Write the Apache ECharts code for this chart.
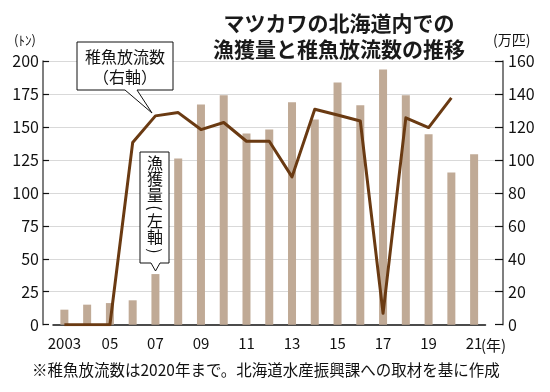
<!DOCTYPE html>
<html><head><meta charset="utf-8">
<script src="https://cdn.jsdelivr.net/npm/echarts@6/dist/echarts.min.js"></script>
<style>html,body{margin:0;padding:0;background:#fff}#c{width:550px;height:392px}</style>
</head><body><div id="c"></div>
<script>
const years = ['2003','2004','2005','2006','2007','2008','2009','2010','2011','2012','2013','2014','2015','2016','2017','2018','2019','2020','2021'];
const catch_t = [11.4,15.2,16.4,18.5,38.4,126,167,174,145,148,168.7,155.6,183.6,166.4,193.5,174,144.5,115.5,129.3];
const release_10k = [0,0,0,110.5,126.7,128.7,118.4,122.7,111.3,111.3,89.7,130.7,127.2,123.6,6.9,125.5,119.6,137.6,null];
const leftTicks = {min:0,max:200,interval:25};
const rightTicks = {min:0,max:160,interval:20};

const F = '"Noto Sans CJK JP","Noto Sans",sans-serif';
const chart = echarts.init(document.getElementById('c'), null, {renderer:'canvas'});
const gTop = 61, gBottom = 67.3;

// vertical callout characters
const vChars = [['漁',163,0],['獲',179,0],['量',195,0],['(',208,-1],['左',221,0],['軸',237,0],[')',251,-1]];
const vText = vChars.map(([c,y,r]) => ({
  type:'text', x:155, y:y, rotation: r ? -Math.PI/2 : 0, z:11,
  style:{text:c,font:'16px '+F,fill:'#111',x:0,y:0,align:'center',verticalAlign:'middle'}
}));

chart.setOption({
  animation:false,
  textStyle:{fontFamily:F},
  grid:[
    {left:53,right:64.5,top:gTop,bottom:gBottom},
    {left:43,right:47,top:gTop,bottom:gBottom}
  ],
  xAxis:[
    {type:'category',gridIndex:0,data:years,boundaryGap:true,
     axisLine:{lineStyle:{color:'#111',width:1.5}},
     axisTick:{alignWithLabel:true,interval:0,length:7,lineStyle:{color:'#111',width:1.2}},
     axisLabel:{interval:1,fontSize:15,color:'#111',margin:11,fontFamily:F,
       formatter:(v,i)=> i===0 ? v : v.slice(2)}},
    {type:'value',gridIndex:1,min:0,max:1,show:false}
  ],
  yAxis:[
    {type:'value',gridIndex:0,position:'left',offset:10,min:leftTicks.min,max:leftTicks.max,interval:leftTicks.interval,
     axisLine:{show:true,lineStyle:{color:'#555',width:1.5}},
     axisTick:{show:true,inside:true,length:6,lineStyle:{color:'#111',width:1.2}},
     axisLabel:{fontSize:16,color:'#111',margin:4,fontFamily:F},
     splitLine:{show:false}},
    {type:'value',gridIndex:0,position:'right',offset:17.5,min:rightTicks.min,max:rightTicks.max,interval:rightTicks.interval,
     axisLine:{show:true,lineStyle:{color:'#555',width:1.5}},
     axisTick:{show:true,inside:true,length:8,lineStyle:{color:'#111',width:1.2}},
     axisLabel:{fontSize:16,color:'#111',margin:5,fontFamily:F},
     splitLine:{show:false}},
    {type:'value',gridIndex:1,min:leftTicks.min,max:leftTicks.max,interval:leftTicks.interval,
     axisLine:{show:false},axisTick:{show:false},axisLabel:{show:false},
     splitLine:{show:true,showMinLine:false,lineStyle:{color:'#d9d9d9',width:1}}}
  ],
  series:[
    {type:'bar',xAxisIndex:0,yAxisIndex:0,data:catch_t,barWidth:8,
     itemStyle:{color:'#c0aa96'},z:2},
    {type:'line',xAxisIndex:0,yAxisIndex:1,data:release_10k,showSymbol:false,
     lineStyle:{color:'#6a3a12',width:3,join:'round'},z:3}
  ],
  graphic:[
    {type:'text',style:{text:'マツカワの北海道内での',font:'bold 21px '+F,fill:'#1a1a1a',x:339,y:23,align:'center',verticalAlign:'middle'}},
    {type:'text',style:{text:'漁獲量と稚魚放流数の推移',font:'bold 21px '+F,fill:'#1a1a1a',x:339,y:49,align:'center',verticalAlign:'middle'}},
    {type:'text',style:{text:'(ﾄﾝ)',font:'13px '+F,fill:'#111',x:14,y:40,align:'left',verticalAlign:'middle'}},
    {type:'text',style:{text:'(万匹)',font:'14px '+F,fill:'#111',x:493,y:40,align:'left',verticalAlign:'middle'}},
    {type:'text',style:{text:'(年)',font:'15px '+F,fill:'#111',x:481,y:345,align:'left',verticalAlign:'middle'}},
    {type:'polygon',shape:{points:[[77,42],[173,42],[173,90],[137,90],[152,113],[125,90],[77,90]]},
     style:{fill:'#fff',stroke:'#111',lineWidth:1},z:10},
    {type:'text',style:{text:'稚魚放流数',font:'16px '+F,fill:'#111',x:125,y:57,align:'center',verticalAlign:'middle'},z:11},
    {type:'text',style:{text:'（右軸）',font:'16px '+F,fill:'#111',x:125,y:77,align:'center',verticalAlign:'middle'},z:11},
    {type:'polygon',shape:{points:[[140,152],[169,152],[169,263],[160,263],[155.5,271],[151,263],[140,263]]},
     style:{fill:'#fff',stroke:'#111',lineWidth:1},z:10},
    ...vText,
    {type:'text',style:{text:'※稚魚放流数は2020年まで。北海道水産振興課への取材を基に作成',font:'15.5px '+F,fill:'#111',x:32,y:370,align:'left',verticalAlign:'middle'}}
  ]
});
</script></body></html>
